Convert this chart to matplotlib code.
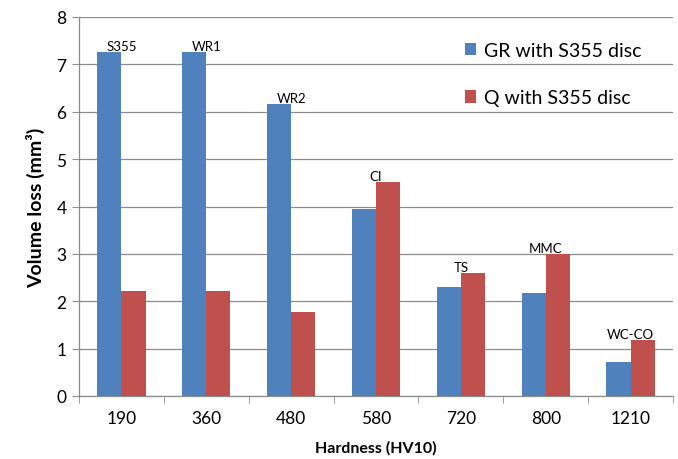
import matplotlib
matplotlib.use("Agg")
import matplotlib.pyplot as plt
import numpy as np

plt.rcParams['font.family'] = ['Lato', 'DejaVu Sans']

categories = ["190", "360", "480", "580", "720", "800", "1210"]
gr_values = [7.26, 7.26, 6.16, 3.95, 2.31, 2.17, 0.71]
q_values = [2.22, 2.22, 1.78, 4.51, 2.59, 2.99, 1.18]
materials = ["S355", "WR1", "WR2", "CI", "TS", "MMC", "WC-CO"]
series_names = ["GR with S355 disc", "Q with S355 disc"]

blue = "#4F81BD"
red = "#C0504D"

fig = plt.figure(figsize=(6.78, 4.6), dpi=100)
ax = fig.add_axes([79/678, 63/460, (673-79)/678, (397-18)/460])

x = np.arange(len(categories))
w = 0.285
ax.bar(x - w/2, gr_values, w, color=blue, label=series_names[0], zorder=3)
ax.bar(x + w/2, q_values, w, color=red, label=series_names[1], zorder=3)

for xi, name, g, q in zip(x, materials, gr_values, q_values):
    ax.text(xi, max(g, q), name, ha='center', va='bottom', fontsize=9.5, zorder=4)

ax.set_xlim(-0.5, len(categories) - 0.5)
ax.set_ylim(0, 8)
ax.set_yticks(range(0, 9))
ax.yaxis.grid(True, color="#8c8c8c", linewidth=0.9, zorder=0)
ax.set_axisbelow(True)

ax.set_xticks(x)
ax.set_xticklabels(categories, fontsize=12.5)
ax.tick_params(axis='x', length=0, pad=10)
ax.set_xticks(np.arange(-0.5, len(categories), 1.0), minor=True)
ax.tick_params(axis='x', which='minor', length=5, color="#8c8c8c", direction='out')
ax.tick_params(axis='y', labelsize=12.5, length=5, color="#8c8c8c", direction='out', pad=4)

for s in ['top', 'right']:
    ax.spines[s].set_visible(False)
for s in ['left', 'bottom']:
    ax.spines[s].set_color("#8c8c8c")
    ax.spines[s].set_linewidth(0.9)

ax.set_ylabel("Volume loss (mm³)", fontsize=14, fontweight='bold', labelpad=8)
ax.set_xlabel("Hardness (HV10)", fontsize=11.5, fontweight='bold', labelpad=10)

leg = ax.legend(loc='upper left', bbox_to_anchor=(0.62, 0.98), frameon=False,
                fontsize=14, handlelength=0.6, handleheight=0.6,
                handletextpad=0.4, labelspacing=1.55)

fig.savefig("out.png", dpi=100)
